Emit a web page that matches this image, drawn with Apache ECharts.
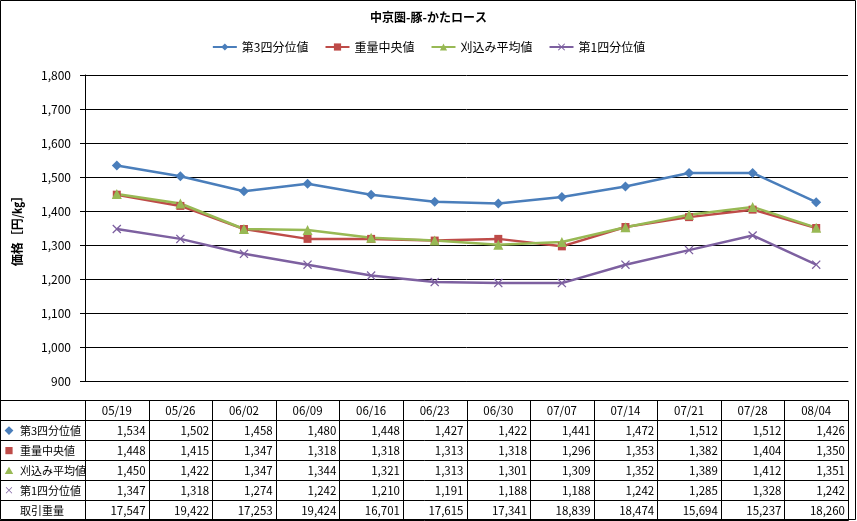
<!DOCTYPE html>
<html lang="ja">
<head>
    <meta charset="UTF-8">
    <title>中京圏-豚-かたロース</title>
    <script src="https://cdn.jsdelivr.net/npm/echarts@6/dist/echarts.min.js"></script>
    <style>
        html, body {margin: 0; padding: 0; background: #fff;}
        #main {width: 857px; height: 521px;}
    </style>
</head>
<body>
<div id="main"></div>
<script>
    // 週ラベル
    const weeks = ['05/19', '05/26', '06/02', '06/09', '06/16', '06/23', '06/30', '07/07', '07/14', '07/21', '07/28', '08/04'];
    // 各系列の値
    const q3 = [1534, 1502, 1458, 1480, 1448, 1427, 1422, 1441, 1472, 1512, 1512, 1426];
    const median = [1448, 1415, 1347, 1318, 1318, 1313, 1318, 1296, 1353, 1382, 1404, 1350];
    const mean = [1450, 1422, 1347, 1344, 1321, 1313, 1301, 1309, 1352, 1389, 1412, 1351];
    const q1 = [1347, 1318, 1274, 1242, 1210, 1191, 1188, 1188, 1242, 1285, 1328, 1242];
    const volume = [17547, 19422, 17253, 19424, 16701, 17615, 17341, 18839, 18474, 15694, 15237, 18260];
    const seriesNames = ['第3四分位値', '重量中央値', '刈込み平均値', '第1四分位値'];

    const FONT = '"Noto Sans CJK JP", "Noto Sans", sans-serif';
    const colors = ['#4A7EBB', '#BE4B48', '#98B954', '#7D60A0'];
    const crossPath = 'path://M0,1L1,0L5,4L9,0L10,1L6,5L10,9L9,10L5,6L1,10L0,9L4,5Z';
    const symbols = ['diamond', 'rect', 'triangle', crossPath];
    const symbolSizes = [10, 8, 10, 9];

    const chart = echarts.init(document.getElementById('main'));

    const option = {
        animation: false,
        textStyle: {fontFamily: FONT},
        title: {
            text: '中京圏-豚-かたロース',
            left: 'center',
            top: 6,
            textStyle: {fontSize: 12, fontWeight: 'bold', color: '#000', fontFamily: FONT}
        },
        legend: {
            top: 36,
            left: 'center',
            itemWidth: 24,
            itemHeight: 9,
            itemGap: 16,
            textStyle: {fontSize: 12, color: '#000', fontFamily: FONT},
            data: seriesNames
        },
        grid: {left: 85, right: 9, top: 75, bottom: 140, containLabel: false},
        xAxis: {
            type: 'category',
            data: weeks,
            boundaryGap: true,
            axisLine: {show: true, lineStyle: {color: '#000', width: 1}},
            axisTick: {show: false},
            axisLabel: {show: false},
            splitLine: {show: false}
        },
        yAxis: {
            type: 'value',
            min: 900,
            max: 1800,
            interval: 100,
            name: '価格［円/㎏］',
            nameLocation: 'middle',
            nameGap: 62,
            nameRotate: 90,
            nameTextStyle: {fontSize: 12, fontWeight: 'bold', color: '#000', fontFamily: FONT},
            axisLine: {show: true, lineStyle: {color: '#000', width: 1}},
            axisTick: {show: true, length: 5, lineStyle: {color: '#000'}},
            axisLabel: {
                fontSize: 12,
                color: '#000',
                margin: 14,
                formatter: v => v.toLocaleString('en-US')
            },
            splitLine: {show: true, lineStyle: {color: '#000', width: 1}}
        },
        series: [q3, median, mean, q1].map((d, i) => ({
            name: seriesNames[i],
            type: 'line',
            data: d,
            symbol: symbols[i],
            symbolSize: symbolSizes[i],
            showAllSymbol: true,
            lineStyle: {color: colors[i], width: 2.5},
            itemStyle: {color: colors[i], borderWidth: 0}
        }))
    };
    chart.setOption(option);

    // データテーブル（グラフ下）
    const c0 = chart.convertToPixel({xAxisIndex: 0}, 0);
    const c1 = chart.convertToPixel({xAxisIndex: 0}, 1);
    const bw = c1 - c0;
    const tblLeft = c0 - bw / 2;
    const tblRight = tblLeft + weeks.length * bw;
    const rowTop = 400.5;
    const rowH = 20;
    const rows = [q3, median, mean, q1, volume];
    const rowLabels = seriesNames.concat(['取引重量']);
    const rowMarks = ['◆', '■', '▲', '×', ''];

    const g = [];
    const line = (x1, y1, x2, y2) => g.push({
        type: 'line', silent: true,
        shape: {x1: x1, y1: y1, x2: x2, y2: y2},
        style: {stroke: '#000', lineWidth: 1}
    });
    const text = (t, x, y, align, extra) => g.push({
        type: 'text', silent: true,
        style: Object.assign({
            text: t, x: x, y: y, align: align, verticalAlign: 'middle',
            font: '11.5px ' + FONT, fill: '#000'
        }, extra || {})
    });

    // 外枠
    g.push({
        type: 'rect', silent: true,
        shape: {x: 0.5, y: 0.5, width: 855, height: 519},
        style: {fill: 'none', stroke: '#000', lineWidth: 1}
    });

    for (let r = 0; r <= rows.length + 1; r++) {
        line(0, rowTop + r * rowH, Math.round(tblRight) + 0.5, rowTop + r * rowH);
    }
    for (let k = 0; k <= weeks.length; k++) {
        const x = Math.round(tblLeft + k * bw) + 0.5;
        line(x, rowTop, x, rowTop + (rows.length + 1) * rowH);
    }

    weeks.forEach((w, i) => {
        text(w, tblLeft + (i + 0.5) * bw, rowTop + rowH / 2, 'center');
    });
    rows.forEach((arr, r) => {
        const yc = rowTop + (r + 1.5) * rowH;
        if (rowMarks[r]) {
            text(rowMarks[r], 9, yc, 'center', {fill: colors[r], font: (r === 3 ? '10px ' : '9px ') + FONT});
        }
        text(rowLabels[r], 20, yc, 'left', {font: '11px ' + FONT});
        arr.forEach((v, i) => {
            text(v.toLocaleString('en-US'), tblLeft + (i + 1) * bw - 3, yc, 'right');
        });
    });

    chart.setOption({graphic: {elements: g}});
</script>
</body>
</html>
